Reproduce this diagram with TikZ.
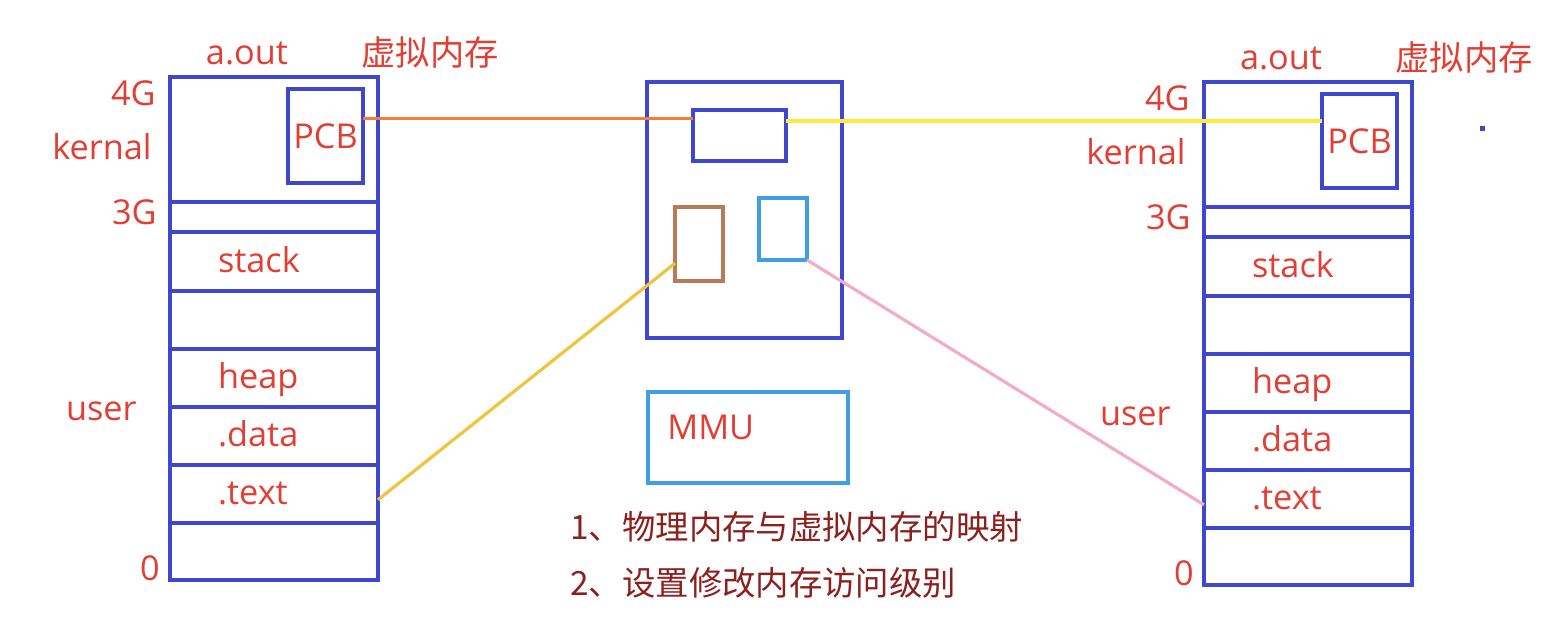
\documentclass[tikz,border=0pt]{standalone}
\usepackage{fontspec}
\setmainfont{Open Sans}
\newfontfamily\cjk{Noto Sans CJK SC}
\usepackage{tikz}
\usetikzlibrary{calc, positioning}

\definecolor{memblue}{RGB}{63,72,204}
\definecolor{memred}{RGB}{226,62,52}
\definecolor{notered}{RGB}{140,32,30}
\definecolor{lnorange}{RGB}{240,128,56}
\definecolor{lnyellow}{RGB}{252,234,62}
\definecolor{lngold}{RGB}{240,196,62}
\definecolor{lnpink}{RGB}{240,172,200}
\definecolor{boxbrown}{RGB}{185,122,87}
\definecolor{boxcyan}{RGB}{62,160,225}
\newcommand\lbfont{\fontsize{19.5}{22}\selectfont}

\begin{document}
\begin{tikzpicture}[
    band/.style={rectangle, draw=memblue, line width=2.3pt, minimum width=4.16cm,
      minimum height=1.16cm, inner sep=0pt, outer sep=0pt, text width=2.24cm,
      align=left, text=memred, font=\lbfont, text height=2.5ex, text depth=0.25ex},
    pcbbox/.style={rectangle, draw=memblue, line width=2.3pt, minimum width=1.5cm,
      minimum height=1.88cm, inner sep=0pt, outer sep=0pt, text=memred, font=\lbfont},
    frame/.style={rectangle, draw=#1, line width=2.3pt, inner sep=0pt, outer sep=0pt},
    lbl/.style={text=memred, font=\lbfont, inner sep=0pt},
    note/.style={text=notered, font=\cjk\fontsize{19}{22}\selectfont, inner sep=0pt, anchor=west},
    link/.style={draw=#1, line width=1.8pt}
  ]
  \useasboundingbox (0,0) rectangle (30.96,-12.64);

  % the two virtual address spaces
  \foreach \s/\xc/\yc in {L/5.48/-1.54, R/26.16/-1.64} {
    \node[band, minimum height=2.5cm, anchor=north] (kern\s) at (\xc,\yc) {};
    \node[band, minimum height=0.6cm, below=0pt of kern\s] (gap\s) {};
    \node[band, minimum height=1.18cm, below=0pt of gap\s] (stack\s) {stack};
    \node[band, below=0pt of stack\s] (free\s) {};
    \node[band, below=0pt of free\s] (heap\s) {heap};
    \node[band, below=0pt of heap\s] (data\s) {.data};
    \node[band, below=0pt of data\s] (text\s) {.text};
    \node[band, minimum height=1.14cm, below=0pt of text\s] (bot\s) {};
    \node[pcbbox, below left=0.24cm and 0.3cm of kern\s.north east] (pcb\s) {PCB};

    \node[lbl] (aout\s) at ($(kern\s.north west)+(1.54,0.48)$) {a.out};
    \node[lbl] (virt\s) at ($(kern\s.north west)+(5.2,0.48)$) {\cjk 虚拟内存};
    \node[lbl, anchor=east] (top\s) at ($(kern\s.north west)+(-0.28,-0.32)$) {4G};
    \node[lbl, anchor=east] (kname\s) at ($(kern\s.north west)+(-0.36,-1.4)$) {kernal};
    \node[lbl, anchor=east] (mid\s) at ($(kern\s.north west)+(-0.26,-2.7)$) {3G};
    \node[lbl, anchor=east] (user\s) at ($(kern\s.north west)+(-0.66,-6.68)$) {user};
    \node[lbl, anchor=east] (zero\s) at ($(kern\s.north west)+(-0.2,-9.82)$) {0};
  }

  % physical memory and MMU
  \node[frame=memblue, minimum width=3.9cm, minimum height=5.12cm] (phys) at (14.89,-4.2) {};
  \node[frame=memblue, minimum width=1.86cm, minimum height=1.02cm] (reg) at (14.79,-2.71) {};
  \node[frame=boxbrown, minimum width=0.96cm, minimum height=1.48cm] (brown) at (13.98,-4.88) {};
  \node[frame=boxcyan, minimum width=0.96cm, minimum height=1.24cm] (cyan) at (15.66,-4.58) {};
  \node[frame=boxcyan, minimum width=4.0cm, minimum height=1.82cm] (mmu) at (14.96,-8.75) {};
  \node[lbl, anchor=west] (mmutext) at ($(mmu.west)+(0.38,0.21)$) {MMU};

  \node[note] (note1) at (11.4,-10.54) {1、物理内存与虚拟内存的映射};
  \node[note] (note2) at (11.4,-11.66) {2、设置修改内存访问级别};

  % mappings
  \coordinate (o1) at ($(pcbL.north east)!0.31!(pcbL.south east)$);
  \draw[link=lnorange] (o1) -- (o1 -| reg.west);
  \coordinate (y1) at ($(reg.north east)!0.22!(reg.south east)$);
  \draw[link=lnyellow, line width=2pt] (y1) -- (y1 -| pcbR.west);
  \draw[link=lngold] ($(textL.north east)!0.6!(textL.south east)$)
    -- ($(brown.north west)!0.76!(brown.south west)$);
  \draw[link=lnpink] (cyan.south east) -- ($(textR.north west)!0.6!(textR.south west)$);

  \fill[memblue] (29.6,-2.52) rectangle (29.7,-2.62);
\end{tikzpicture}
\end{document}
